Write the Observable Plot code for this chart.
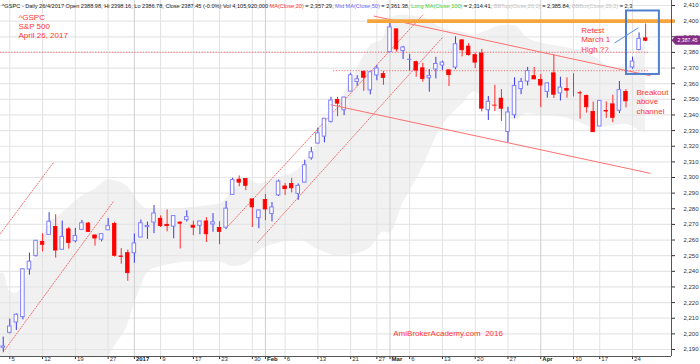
<!DOCTYPE html>
<html><head><meta charset="utf-8">
<script src="https://cdn.jsdelivr.net/npm/d3@7"></script>
<script src="https://cdn.jsdelivr.net/npm/@observablehq/plot@0.6"></script>
<style>
body{margin:0;background:#fff;}
#chart svg{display:block;}
</style></head><body><div id="chart"></div>
<script>
// ---- data ----
const dates = ["2016-12-02","2016-12-05","2016-12-06","2016-12-07","2016-12-08","2016-12-09","2016-12-12","2016-12-13","2016-12-14","2016-12-15","2016-12-16","2016-12-19","2016-12-20","2016-12-21","2016-12-22","2016-12-23","2016-12-27","2016-12-28","2016-12-29","2016-12-30",
"2017-01-03","2017-01-04","2017-01-05","2017-01-06","2017-01-09","2017-01-10","2017-01-11","2017-01-12","2017-01-13","2017-01-17","2017-01-18","2017-01-19","2017-01-20","2017-01-23","2017-01-24","2017-01-25","2017-01-26","2017-01-27","2017-01-30","2017-01-31",
"2017-02-01","2017-02-02","2017-02-03","2017-02-06","2017-02-07","2017-02-08","2017-02-09","2017-02-10","2017-02-13","2017-02-14","2017-02-15","2017-02-16","2017-02-17","2017-02-21","2017-02-22","2017-02-23","2017-02-24","2017-02-27","2017-02-28",
"2017-03-01","2017-03-02","2017-03-03","2017-03-06","2017-03-07","2017-03-08","2017-03-09","2017-03-10","2017-03-13","2017-03-14","2017-03-15","2017-03-16","2017-03-17","2017-03-20","2017-03-21","2017-03-22","2017-03-23","2017-03-24","2017-03-27","2017-03-28","2017-03-29","2017-03-30","2017-03-31",
"2017-04-03","2017-04-04","2017-04-05","2017-04-06","2017-04-07","2017-04-10","2017-04-11","2017-04-12","2017-04-13","2017-04-17","2017-04-18","2017-04-19","2017-04-20","2017-04-21","2017-04-24","2017-04-25","2017-04-26"];
const openP = [2191.12,2200.65,2207.26,2210.72,2241.13,2249.73,2258.83,2263.32,2268.35,2253.77,2266.81,2259.24,2266.50,2270.54,2262.93,2260.25,2266.23,2270.23,2249.50,2251.61,
2251.57,2261.60,2268.18,2271.14,2273.59,2269.72,2268.60,2271.14,2272.74,2269.14,2269.14,2271.90,2269.96,2267.78,2267.88,2288.88,2298.63,2299.02,2286.01,2274.02,
2285.59,2276.69,2288.54,2294.28,2295.87,2289.55,2296.70,2312.27,2321.72,2326.12,2335.58,2349.64,2343.01,2354.91,2361.11,2367.50,2355.73,2365.23,2366.08,
2380.13,2394.75,2380.92,2375.23,2373.79,2369.81,2363.49,2369.08,2371.56,2368.55,2370.34,2387.71,2383.71,2378.24,2379.32,2343.00,2345.97,2350.42,2329.11,2339.79,2356.54,2361.31,2364.82,
2362.34,2354.76,2366.59,2353.79,2356.59,2357.16,2353.92,2352.15,2341.98,2332.62,2342.53,2346.79,2342.69,2354.74,2370.33,2381.51,2388.98];
const highP = [2197.95,2209.42,2212.78,2241.63,2251.69,2259.80,2264.03,2277.53,2276.20,2272.12,2268.05,2267.47,2272.56,2271.23,2263.18,2263.79,2273.82,2271.31,2254.51,2253.58,
2263.88,2272.82,2271.50,2282.10,2275.49,2279.27,2275.32,2271.78,2278.68,2272.08,2272.01,2274.33,2276.96,2271.78,2284.63,2299.55,2300.99,2299.02,2286.01,2279.09,
2289.14,2283.97,2298.31,2296.18,2299.40,2295.91,2311.08,2319.23,2331.58,2337.58,2351.30,2351.31,2351.16,2366.71,2365.13,2368.26,2367.34,2371.54,2367.79,
2400.98,2394.75,2383.89,2378.80,2374.42,2373.09,2369.08,2376.86,2374.42,2368.55,2390.01,2388.10,2385.71,2379.55,2381.93,2351.81,2358.92,2356.22,2344.90,2363.78,2363.36,2370.42,2370.35,
2365.87,2360.53,2378.36,2364.16,2363.76,2366.37,2355.22,2352.72,2348.26,2349.14,2348.35,2352.63,2361.37,2356.18,2376.98,2392.48,2398.16];
const lowP = [2188.37,2199.97,2202.21,2208.93,2237.57,2249.23,2252.37,2263.32,2248.44,2253.77,2254.24,2258.21,2266.14,2265.15,2256.08,2258.84,2266.15,2249.11,2244.56,2233.62,
2245.13,2261.60,2260.45,2264.06,2268.04,2265.27,2260.83,2254.25,2271.51,2262.81,2263.35,2258.41,2265.01,2257.02,2266.68,2288.88,2294.08,2291.62,2268.04,2267.21,
2272.44,2271.65,2287.88,2288.57,2290.16,2285.38,2296.61,2311.10,2321.42,2322.17,2334.81,2338.87,2339.58,2354.91,2358.34,2355.09,2352.87,2361.87,2358.96,
2380.13,2380.17,2375.39,2367.98,2364.08,2361.01,2354.54,2363.04,2368.52,2358.18,2368.94,2377.18,2377.64,2369.66,2341.90,2336.45,2342.13,2335.74,2322.25,2337.63,2352.94,2358.58,2362.60,
2344.73,2350.72,2350.52,2348.90,2350.74,2351.50,2337.25,2341.18,2328.95,2332.51,2337.81,2335.05,2340.91,2344.51,2369.19,2381.15,2386.78];
const closeP = [2191.95,2204.71,2212.23,2241.35,2246.19,2259.53,2256.96,2271.72,2253.28,2262.03,2258.07,2262.53,2270.76,2265.18,2260.96,2263.79,2268.88,2249.92,2249.26,2238.83,
2257.83,2270.75,2269.00,2276.98,2268.90,2268.90,2275.32,2270.44,2274.64,2267.89,2271.89,2263.69,2271.31,2265.20,2280.07,2298.37,2296.68,2294.69,2280.90,2278.87,
2279.55,2280.85,2297.42,2292.56,2293.08,2294.67,2307.87,2316.10,2328.25,2337.58,2349.25,2347.22,2351.16,2365.38,2362.82,2363.81,2367.34,2369.75,2363.64,
2395.96,2381.92,2383.12,2375.31,2368.39,2362.98,2364.87,2372.60,2373.47,2365.45,2385.26,2381.38,2378.25,2373.47,2344.02,2348.45,2345.96,2343.98,2341.59,2358.57,2361.13,2368.06,2362.72,
2358.84,2360.16,2352.95,2357.49,2355.54,2357.16,2353.78,2344.93,2328.95,2349.01,2342.19,2338.17,2355.84,2348.69,2374.15,2388.61,2387.45];
const firstIndex = -1; // Dec 2 sits one trading day left of the "5" tick

// Bollinger band envelope read from the shaded area
const bandIndex = [-2,-1,0,1,2,3,4,5,6,7,9,11,13,15,16,18,19,20,21,23,28,32,34,36,38,41,44,47,50,52,55,57,58,60,61,63,65,66,69,71,72,73,75,77,79,81,85,87,89,92,94,95,96,97];
const bandTop = [2238,2239,2227,2226,2231,2241,2252,2260.5,2272,2274,2281,2288,2292.5,2298.5,2298,2294,2288,2282.5,2279.5,2279,2281,2283,2291,2300,2296,2300,2305,2322,2345,2361,2384,2389,2402,2404,2403.5,2402.5,2397.5,2395.5,2393,2391,2392.7,2394,2397,2397,2389,2386,2383,2381,2377.4,2370.3,2370,2374.5,2382,2385.8];
const bandBottom = [2110,2112,2146,2158,2159,2157,2156,2157,2156,2161,2165,2176,2182,2185,2192,2206,2219,2230,2239,2243,2246,2246,2243,2244.5,2253,2258,2260,2254,2250,2250.5,2255,2265,2264.5,2283.5,2291,2306.5,2325.5,2333,2347,2355,2351,2348,2341,2337,2341,2340,2338,2335,2332,2333,2334,2332.5,2330,2328.7];

// axis ticks
const priceTicks = [2190,2200,2210,2220,2230,2240,2250,2260,2270,2280,2290,2300,2310,2320,2330,2340,2350,2360,2370,2380,2390,2400,2410];
const tickIndex = [0,5,10,15,19,23,28,32,37,39,42,47,52,56,58,61,66,71,76,81,86,90,95];
const tickLabels = ["5","12","19","27","2017","9","17","23","30","Feb","6","13","21","27","Mar","6","13","20","27","Apr","10","17","24"];
const monthLabels = ["2017","Feb","Mar","Apr"];

// drawn lines (index, price)
const upperChannelIdx = [55.6, 97.7], upperChannelVal = [2403.2, 2365.1];
const lowerChannelIdx = [49.0, 97.7], lowerChannelVal = [2346.5, 2302.7];
const rise1Idx = [-1.42, 6.67], rise1Val = [2264.2, 2309.6];
const rise2Idx = [-1.0, 15.8], rise2Val = [2188.4, 2284.6];
const rise3Idx = [33.4, 63.0], rise3Val = [2269.3, 2403.9];
const rise4Idx = [37.8, 66.0], rise4Val = [2258.4, 2389.5];
const hLineVal = [2380.1, 2368.3], hLineStart = [-1.42, 49.4], hLineEnd = [97.5, 97.5];
const resistanceVal = 2400, resistanceIdx = [54.6, 101.5];
const boxIdx = [94.08, 99.1], boxVal = [2365.9, 2406.5];
const pointerIdx = [92.3, 95.84], pointerVal = [2386.1, 2395.6];

const header = [
  ["^GSPC - Daily 26/4/2017 Open 2388.98, Hi 2398.16, Lo 2386.78, Close 2387.45 (-0.0%) Vol 4,105,920,000 ", "#222"],
  ["MA(Close,20)", "#ff3333"], [" = 2,357.29, ", "#222"],
  ["Mid MA(Close,50)", "#6b6bff"], [" = 2,361.38, ", "#222"],
  ["Long MA(Close,100)", "#3fcf3f"], [" = 2,314.41, ", "#222"],
  ["BBTop(Close,20,2)", "#c4c4c4"], [" = 2,385.84, ", "#222"],
  ["BBBot(Close,20,2)", "#c4c4c4"], [" = 2,3", "#222"]
];
const notes = [
  {i: 1.33, v: 2396.9, text: "^GSPC\nS&P 500\nApril 26, 2017"},
  {i: 87.17, v: 2388.25, text: "Retest\nMarch 1\nHigh ??"},
  {i: 95.6, v: 2348.6, text: "Breakout\nabove\nchannel"},
  {i: 58.5, v: 2200.4, text: "AmiBrokerAcademy.com  2016"}
];

// ---- build ----
const xDomain = [-1.4188, 100.946];
const yDomain = [2185.52, 2413.2];
const candles = dates.map((d, k) => ({i: k + firstIndex, o: openP[k], h: highP[k], l: lowP[k], c: closeP[k]}));
const up = candles.filter(d => d.c > d.o);
const down = candles.filter(d => d.c <= d.o);
const band = bandIndex.map((i, k) => ({i, top: bandTop[k], bot: bandBottom[k]}));
const pts = (I, V) => I.map((i, k) => ({i, v: V[k]}));
const xTicks = tickIndex.map((i, k) => ({i, label: tickLabels[k], month: monthLabels.includes(tickLabels[k])}));
const hw = 0.27;
const dotted = {stroke: "#f07070", strokeWidth: 1, strokeDasharray: "1.2,1.6", clip: true};

const plot = Plot.plot({
  width: 700, height: 364,
  marginLeft: 0, marginRight: 29, marginTop: 0, marginBottom: 8,
  style: {fontFamily: "'Liberation Sans', Arial, sans-serif", fontSize: "6px", color: "#333", background: "#fff", overflow: "visible"},
  x: {type: "linear", domain: xDomain, ticks: tickIndex, tickFormat: () => "", tickSize: 3, axis: "bottom", label: null},
  y: {domain: yDomain, ticks: priceTicks, tickFormat: d3.format(","), axis: "right", tickSize: 3, tickPadding: 9, label: null},
  marks: [
    Plot.areaY(band, {x: "i", y1: "bot", y2: "top", fill: "#f1f1f1", curve: "monotone-x", clip: true}),
    Plot.ruleY(priceTicks, {stroke: "#e6e6e6", strokeWidth: 1.2}),
    Plot.ruleX(xTicks.filter(d => !d.month), {x: "i", stroke: "#e2e2e2"}),
    Plot.ruleX(xTicks.filter(d => d.month), {x: "i", stroke: "#cfcfcf"}),
    // rising dotted channels
    Plot.line(pts(rise1Idx, rise1Val), {x: "i", y: "v", ...dotted}),
    Plot.line(pts(rise2Idx, rise2Val), {x: "i", y: "v", ...dotted}),
    Plot.line(pts(rise3Idx, rise3Val), {x: "i", y: "v", ...dotted}),
    Plot.line(pts(rise4Idx, rise4Val), {x: "i", y: "v", ...dotted}),
    // horizontal dotted levels
    Plot.ruleY(hLineVal.map((v, k) => ({v, a: hLineStart[k], b: hLineEnd[k]})), {y: "v", x1: "a", x2: "b", ...dotted}),
    // candles
    Plot.ruleX(up, {x: "i", y1: "l", y2: "h", stroke: "#3a3ae6"}),
    Plot.rect(up, {x1: d => d.i - hw, x2: d => d.i + hw, y1: "o", y2: "c", fill: "#fff", stroke: "#7f7fff"}),
    Plot.ruleX(down, {x: "i", y1: "l", y2: "h", stroke: "#ff2a2a"}),
    Plot.rect(down, {x1: d => d.i - hw, x2: d => d.i + hw, y1: "c", y2: "o", fill: "#ff0000", stroke: "#ff0000", strokeWidth: 0.8}),
    // falling channel
    Plot.line(pts(upperChannelIdx, upperChannelVal), {x: "i", y: "v", stroke: "#ff7070", strokeWidth: 1}),
    Plot.line(pts(lowerChannelIdx, lowerChannelVal), {x: "i", y: "v", stroke: "#ff7070", strokeWidth: 1}),
    // resistance
    Plot.ruleY([resistanceVal], {x1: resistanceIdx[0], x2: resistanceIdx[1], stroke: "#f6a53c", strokeWidth: 3.6}),
    // annotation box + pointer
    Plot.rect([0], {x1: boxIdx[0], x2: boxIdx[1], y1: boxVal[0], y2: boxVal[1], fill: "none", stroke: "#4f80cf", strokeWidth: 2}),
    Plot.line(pts(pointerIdx, pointerVal), {x: "i", y: "v", stroke: "#5c8fe0", strokeWidth: 1}),
    // frame lines
    Plot.ruleX([xDomain[1]], {stroke: "#555"}),
    Plot.ruleY([yDomain[0]], {stroke: "#555"}),
    // x labels
    Plot.text(xTicks.filter(d => !d.month), {x: "i", text: "label", frameAnchor: "bottom", textAnchor: "start", dx: 1.6, dy: 4.6, fill: "#333", fontSize: 6}),
    Plot.text(xTicks.filter(d => d.month), {x: "i", text: "label", frameAnchor: "bottom", textAnchor: "start", dx: 1.6, dy: 4.6, fill: "#222", fontSize: 6, fontWeight: "bold"}),
    // annotations
    Plot.text(notes, {x: "i", y: "v", text: "text", textAnchor: "start", lineAnchor: "middle", lineHeight: 1.15, fill: "#ff3535", fontSize: 8})
  ]
});
document.getElementById("chart").appendChild(plot);

// header line and last-price tag
const svg = d3.select(plot);
const t = svg.append("text").attr("x", 1.7).attr("y", 7.6).attr("text-anchor", "start")
  .attr("font-size", 5.6).attr("font-family", "'Liberation Sans', Arial, sans-serif").style("white-space", "pre");
header.forEach(([s, c]) => t.append("tspan").attr("fill", c).text(s));

const yS = plot.scale("y"), xS = plot.scale("x");
const last = candles[candles.length - 1].c;
const ty = yS.apply(last), tx = xS.apply(xDomain[1]);
svg.append("path").attr("d", `M${tx + 0.5},${ty} L${tx + 4.5},${ty - 4.4} L700,${ty - 4.4} L700,${ty + 4.4} L${tx + 4.5},${ty + 4.4} Z`).attr("fill", "#852c85");
svg.append("text").attr("x", tx + 6.5).attr("y", ty).attr("dy", "0.35em").attr("text-anchor", "start").attr("fill", "#fff")
  .attr("font-size", 5.2).attr("font-family", "'Liberation Sans', Arial, sans-serif").text(d3.format(",.2f")(last));
</script></body></html>
